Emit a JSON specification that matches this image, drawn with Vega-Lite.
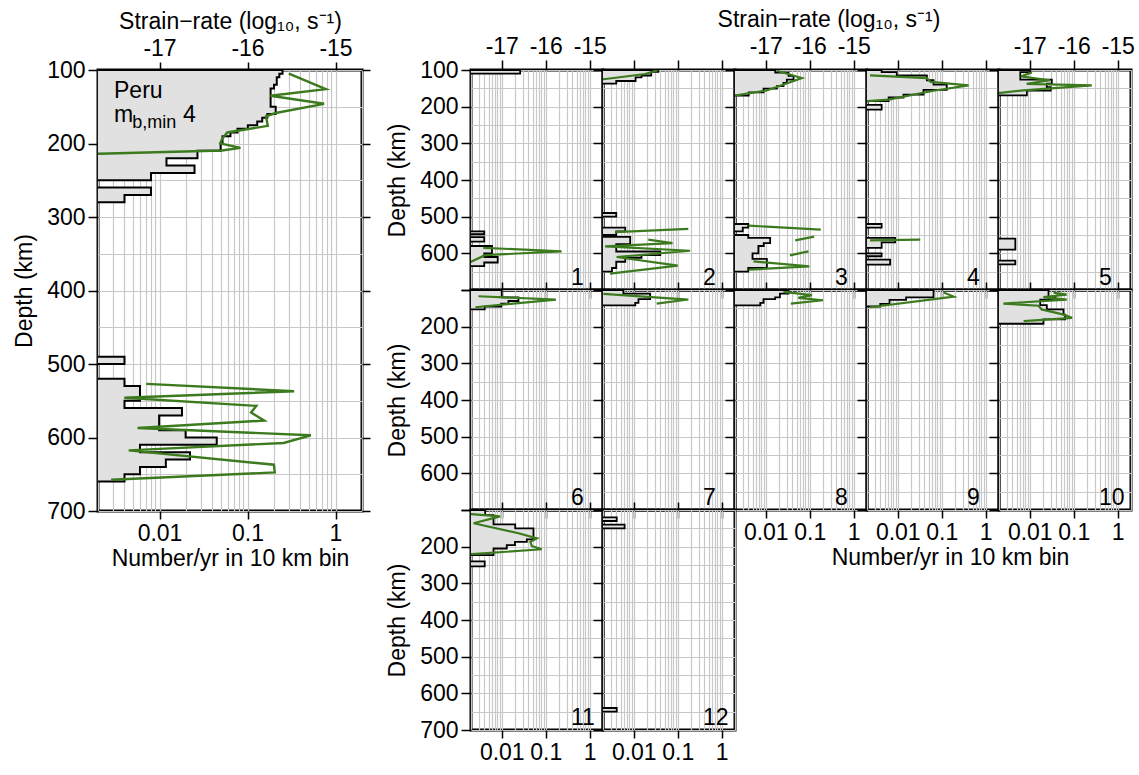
{
"$schema":"https://vega.github.io/schema/vega-lite/v6.json",
"padding":{"left":12,"top":6,"right":5,"bottom":5},
"background":"white",
"datasets":{
"hist":[
{"p":0,"d":100,"v":0.25},{"p":0,"d":105,"v":0.23},{"p":0,"d":110,"v":0.215},{"p":0,"d":120,"v":0.2},{"p":0,"d":125,"v":0.183},{"p":0,"d":150,"v":0.209},{"p":0,"d":160,"v":0.168},{"p":0,"d":165,"v":0.147},{"p":0,"d":170,"v":0.129},{"p":0,"d":175,"v":0.101},{"p":0,"d":180,"v":0.077},{"p":0,"d":185,"v":0.064},{"p":0,"d":190,"v":0.052},{"p":0,"d":200,"v":0.0495},{"p":0,"d":210,"v":0.027},{"p":0,"d":220,"v":0.012},{"p":0,"d":230,"v":0.025},{"p":0,"d":240,"v":0.008},{"p":0,"d":250,"v":0.0001},{"p":0,"d":260,"v":0.008},{"p":0,"d":270,"v":0.004},{"p":0,"d":280,"v":0.0001},{"p":0,"d":490,"v":0.004},{"p":0,"d":500,"v":0.0001},{"p":0,"d":520,"v":0.004},{"p":0,"d":530,"v":0.006},{"p":0,"d":550,"v":0.004},{"p":0,"d":560,"v":0.018},{"p":0,"d":570,"v":0.0099},{"p":0,"d":590,"v":0.0198},{"p":0,"d":600,"v":0.0447},{"p":0,"d":610,"v":0.006},{"p":0,"d":620,"v":0.0222},{"p":0,"d":630,"v":0.0118},{"p":0,"d":640,"v":0.006},{"p":0,"d":650,"v":0.004},{"p":0,"d":660,"v":0.0001},
{"p":1,"d":100,"v":0.0262},{"p":1,"d":110,"v":0.0001},{"p":1,"d":540,"v":0.004},{"p":1,"d":548,"v":0.0001},{"p":1,"d":556,"v":0.004},{"p":1,"d":568,"v":0.0001},{"p":1,"d":580,"v":0.006},{"p":1,"d":600,"v":0.004},{"p":1,"d":610,"v":0.0081},{"p":1,"d":625,"v":0.004},{"p":1,"d":635,"v":0.0001},
{"p":2,"d":100,"v":0.036},{"p":2,"d":105,"v":0.025},{"p":2,"d":115,"v":0.015},{"p":2,"d":120,"v":0.011},{"p":2,"d":130,"v":0.004},{"p":2,"d":137,"v":0.0001},{"p":2,"d":490,"v":0.004},{"p":2,"d":500,"v":0.0001},{"p":2,"d":530,"v":0.0064},{"p":2,"d":540,"v":0.004},{"p":2,"d":550,"v":0.0001},{"p":2,"d":555,"v":0.0083},{"p":2,"d":575,"v":0.004},{"p":2,"d":595,"v":0.04},{"p":2,"d":605,"v":0.015},{"p":2,"d":612,"v":0.0064},{"p":2,"d":623,"v":0.004},{"p":2,"d":640,"v":0.0032},{"p":2,"d":650,"v":0.0001},
{"p":3,"d":100,"v":0.0164},{"p":3,"d":107,"v":0.0329},{"p":3,"d":116,"v":0.0428},{"p":3,"d":126,"v":0.0301},{"p":3,"d":135,"v":0.0253},{"p":3,"d":144,"v":0.0179},{"p":3,"d":151,"v":0.0089},{"p":3,"d":161,"v":0.0041},{"p":3,"d":170,"v":0.0001},{"p":3,"d":520,"v":0.004},{"p":3,"d":530,"v":0.003},{"p":3,"d":540,"v":0.0001},{"p":3,"d":550,"v":0.004},{"p":3,"d":558,"v":0.0126},{"p":3,"d":572,"v":0.009},{"p":3,"d":580,"v":0.0068},{"p":3,"d":600,"v":0.005},{"p":3,"d":615,"v":0.0106},{"p":3,"d":640,"v":0.004},{"p":3,"d":650,"v":0.0001},
{"p":4,"d":100,"v":0.0043},{"p":4,"d":106,"v":0.0095},{"p":4,"d":115,"v":0.046},{"p":4,"d":128,"v":0.065},{"p":4,"d":140,"v":0.13},{"p":4,"d":154,"v":0.0385},{"p":4,"d":167,"v":0.0135},{"p":4,"d":175,"v":0.0062},{"p":4,"d":185,"v":0.0001},{"p":4,"d":195,"v":0.0043},{"p":4,"d":208,"v":0.0001},{"p":4,"d":520,"v":0.0043},{"p":4,"d":530,"v":0.0001},{"p":4,"d":558,"v":0.0087},{"p":4,"d":570,"v":0.0043},{"p":4,"d":585,"v":0.0001},{"p":4,"d":600,"v":0.0043},{"p":4,"d":608,"v":0.0001},{"p":4,"d":617,"v":0.0067},{"p":4,"d":631,"v":0.0001},
{"p":5,"d":100,"v":0.0102},{"p":5,"d":106,"v":0.0061},{"p":5,"d":126,"v":0.0317},{"p":5,"d":137,"v":0.0244},{"p":5,"d":147,"v":0.03},{"p":5,"d":156,"v":0.0086},{"p":5,"d":169,"v":0.0001},{"p":5,"d":560,"v":0.0047},{"p":5,"d":590,"v":0.0001},{"p":5,"d":620,"v":0.0047},{"p":5,"d":630,"v":0.0001},
{"p":6,"d":100,"v":0.01},{"p":6,"d":120,"v":0.024},{"p":6,"d":130,"v":0.0142},{"p":6,"d":137,"v":0.0097},{"p":6,"d":145,"v":0.0041},{"p":6,"d":153,"v":0.0001},
{"p":7,"d":100,"v":0.0058},{"p":7,"d":110,"v":0.0236},{"p":7,"d":125,"v":0.0128},{"p":7,"d":135,"v":0.0108},{"p":7,"d":142,"v":0.0001},
{"p":8,"d":100,"v":0.033},{"p":8,"d":110,"v":0.021},{"p":8,"d":120,"v":0.0164},{"p":8,"d":125,"v":0.0089},{"p":8,"d":135,"v":0.0075},{"p":8,"d":142,"v":0.0001},
{"p":9,"d":100,"v":0.065},{"p":9,"d":120,"v":0.0155},{"p":9,"d":127,"v":0.0065},{"p":9,"d":138,"v":0.004},{"p":9,"d":145,"v":0.0001},
{"p":10,"d":100,"v":0.0267},{"p":10,"d":120,"v":0.038},{"p":10,"d":126,"v":0.0173},{"p":10,"d":141,"v":0.0244},{"p":10,"d":153,"v":0.0585},{"p":10,"d":167,"v":0.0638},{"p":10,"d":180,"v":0.0205},{"p":10,"d":192,"v":0.0001},
{"p":11,"d":100,"v":0.0042},{"p":11,"d":114,"v":0.0065},{"p":11,"d":139,"v":0.0202},{"p":11,"d":150,"v":0.0526},{"p":11,"d":180,"v":0.0372},{"p":11,"d":187,"v":0.02},{"p":11,"d":196,"v":0.013},{"p":11,"d":205,"v":0.0065},{"p":11,"d":223,"v":0.0001},{"p":11,"d":240,"v":0.0041},{"p":11,"d":254,"v":0.0001},
{"p":12,"d":100,"v":0.0001},{"p":12,"d":120,"v":0.0041},{"p":12,"d":130,"v":0.0001},{"p":12,"d":140,"v":0.0062},{"p":12,"d":150,"v":0.0001},{"p":12,"d":640,"v":0.0041},{"p":12,"d":650,"v":0.0001}
],
"green":[
{"p":0,"g":0,"d":105,"s":-15.53},{"p":0,"g":0,"d":126,"s":-15.11},{"p":0,"g":0,"d":135,"s":-15.74},{"p":0,"g":0,"d":146,"s":-15.13},{"p":0,"g":0,"d":158.5,"s":-15.68},{"p":0,"g":0,"d":163,"s":-15.79},{"p":0,"g":0,"d":176,"s":-15.77},{"p":0,"g":0,"d":185,"s":-16.23},{"p":0,"g":0,"d":194,"s":-16.29},{"p":0,"g":0,"d":200,"s":-16.31},{"p":0,"g":0,"d":206,"s":-16.08},{"p":0,"g":0,"d":209.5,"s":-16.29},{"p":0,"g":0,"d":214,"s":-17.69},{"p":0,"g":0,"d":216.5,"s":-18.5},
{"p":0,"g":1,"d":527,"s":-17.15},{"p":0,"g":1,"d":537,"s":-15.47},{"p":0,"g":1,"d":546,"s":-17.4},{"p":0,"g":1,"d":557,"s":-15.9},{"p":0,"g":1,"d":566,"s":-15.96},{"p":0,"g":1,"d":577,"s":-15.81},{"p":0,"g":1,"d":587,"s":-17.25},{"p":0,"g":1,"d":597,"s":-15.28},{"p":0,"g":1,"d":607.5,"s":-15.59},{"p":0,"g":1,"d":617.5,"s":-17.35},{"p":0,"g":1,"d":637,"s":-15.7},{"p":0,"g":1,"d":647.5,"s":-15.69},{"p":0,"g":1,"d":657.5,"s":-17.55},
{"p":1,"g":0,"d":585,"s":-17.42},{"p":1,"g":0,"d":594.5,"s":-15.64},{"p":1,"g":0,"d":605,"s":-17.38},{"p":1,"g":0,"d":626,"s":-17.75},
{"p":2,"g":0,"d":100.5,"s":-16.45},{"p":2,"g":0,"d":111,"s":-16.74},{"p":2,"g":0,"d":124.5,"s":-17.64},{"p":2,"g":0,"d":128,"s":-18.2},
{"p":2,"g":1,"d":533.5,"s":-15.76},{"p":2,"g":1,"d":542,"s":-17.42},
{"p":2,"g":2,"d":562.5,"s":-16.67},{"p":2,"g":2,"d":572,"s":-16.12},{"p":2,"g":2,"d":581,"s":-17.65},{"p":2,"g":2,"d":593,"s":-15.72},{"p":2,"g":2,"d":610,"s":-17.39},{"p":2,"g":2,"d":633.5,"s":-16.0},{"p":2,"g":2,"d":655.5,"s":-17.54},
{"p":3,"g":0,"d":102,"s":-16.75},{"p":3,"g":0,"d":122,"s":-16.18},{"p":3,"g":0,"d":138,"s":-16.56},{"p":3,"g":0,"d":156,"s":-16.98},{"p":3,"g":0,"d":169,"s":-17.67},{"p":3,"g":0,"d":172,"s":-18.2},
{"p":3,"g":1,"d":524.5,"s":-17.39},{"p":3,"g":1,"d":535.5,"s":-15.75},
{"p":3,"g":2,"d":554.5,"s":-15.9},{"p":3,"g":2,"d":564.5,"s":-16.33},
{"p":3,"g":3,"d":594.5,"s":-16.03},{"p":3,"g":3,"d":605.5,"s":-16.45},
{"p":3,"g":4,"d":622,"s":-17.28},{"p":3,"g":4,"d":635.5,"s":-16.01},{"p":3,"g":4,"d":644.5,"s":-17.39},
{"p":4,"g":0,"d":114.5,"s":-17.63},{"p":4,"g":0,"d":122,"s":-16.34},{"p":4,"g":0,"d":132.5,"s":-16.25},{"p":4,"g":0,"d":142,"s":-15.39},{"p":4,"g":0,"d":156.5,"s":-16.19},{"p":4,"g":0,"d":181,"s":-17.21},{"p":4,"g":0,"d":185,"s":-17.68},{"p":4,"g":0,"d":187,"s":-18.2},
{"p":4,"g":1,"d":562.5,"s":-16.49},{"p":4,"g":1,"d":564.5,"s":-17.63},
{"p":5,"g":0,"d":106.5,"s":-16.95},{"p":5,"g":0,"d":117.5,"s":-17.2},{"p":5,"g":0,"d":128,"s":-16.54},{"p":5,"g":0,"d":138,"s":-17.07},{"p":5,"g":0,"d":142,"s":-15.59},{"p":5,"g":0,"d":155.5,"s":-17.14},{"p":5,"g":0,"d":162.5,"s":-17.67},{"p":5,"g":0,"d":165,"s":-18.2},
{"p":6,"g":0,"d":117,"s":-17.53},{"p":6,"g":0,"d":126,"s":-15.77},{"p":6,"g":0,"d":147,"s":-17.6},
{"p":7,"g":0,"d":110.5,"s":-17.69},{"p":7,"g":0,"d":126,"s":-15.76},{"p":7,"g":0,"d":137,"s":-16.48},
{"p":8,"g":0,"d":105,"s":-16.6},{"p":8,"g":0,"d":114,"s":-15.95},{"p":8,"g":0,"d":121.5,"s":-16.26},{"p":8,"g":0,"d":128,"s":-15.7},{"p":8,"g":0,"d":137,"s":-16.43},
{"p":9,"g":0,"d":107,"s":-15.96},{"p":9,"g":0,"d":118,"s":-15.73},{"p":9,"g":0,"d":147,"s":-17.63},
{"p":10,"g":0,"d":107,"s":-16.46},{"p":10,"g":0,"d":112.5,"s":-16.16},{"p":10,"g":0,"d":119.5,"s":-16.69},{"p":10,"g":0,"d":126,"s":-16.16},{"p":10,"g":0,"d":137,"s":-17.6},{"p":10,"g":0,"d":143,"s":-16.8},{"p":10,"g":0,"d":153,"s":-16.73},{"p":10,"g":0,"d":167,"s":-16.23},{"p":10,"g":0,"d":176,"s":-16.04},{"p":10,"g":0,"d":185,"s":-17.14},
{"p":11,"g":0,"d":111.5,"s":-17.7},{"p":11,"g":0,"d":117.5,"s":-17.04},{"p":11,"g":0,"d":136,"s":-17.64},{"p":11,"g":0,"d":163.5,"s":-16.62},{"p":11,"g":0,"d":177.5,"s":-16.2},{"p":11,"g":0,"d":187,"s":-16.35},{"p":11,"g":0,"d":198,"s":-16.32},{"p":11,"g":0,"d":207,"s":-16.09},{"p":11,"g":0,"d":220.5,"s":-17.68},{"p":11,"g":0,"d":223,"s":-18.2}
]
},
"spacing":12,
"hconcat":[
{"width":264,"height":441,
"layer":[
{"data":{"name":"hist"},"transform":[{"filter":"datum.p == 0"}],
"mark":{"type":"area","orient":"horizontal","interpolate":"step-before","fill":"#e1e1e1","stroke":"black","strokeWidth":2,"clip":true},
"encoding":{
"x":{"field":"v","type":"quantitative","scale":{"type":"log","domain":[0.002,2]},"axis":{"orient":"bottom","values":[0.002,0.003,0.004,0.005,0.006,0.007,0.008,0.009,0.01,0.02,0.03,0.04,0.05,0.06,0.07,0.08,0.09,0.1,0.2,0.3,0.4,0.5,0.6,0.7,0.8,0.9,1,2],"grid":true,"labelExpr":"datum.value == 0.01 ? '0.01' : datum.value == 0.1 ? '0.1' : datum.value == 1 ? '1' : ''","tickOpacity":{"condition":{"test":"datum.value == 0.01 || datum.value == 0.1 || datum.value == 1","value":1},"value":0},"tickSize":8,"labelPadding":3,"title":"Number/yr in 10 km bin","titlePadding":2}},
"x2":{"datum":0.0001},
"y":{"field":"d","type":"quantitative","scale":{"domain":[100,700],"reverse":true},"axis":{"values":[100,150,200,250,300,350,400,450,500,550,600,650,700],"grid":true,"labelExpr":"datum.value % 100 == 0 ? datum.label : ''","tickOpacity":{"condition":{"test":"datum.value % 100 == 0","value":1},"value":0},"tickSize":10,"labelPadding":3,"title":"Depth (km)","titlePadding":10}}}},
{"data":{"name":"green"},"transform":[{"filter":"datum.p == 0"}],
"mark":{"type":"line","color":"#3c7a1e","strokeWidth":2.4,"clip":true},
"encoding":{
"x":{"field":"s","type":"quantitative","scale":{"domain":[-17.699,-14.699]},"axis":{"orient":"top","values":[-17,-16,-15],"grid":false,"labelExpr":"'' + datum.value","tickSize":8,"labelPadding":2,"title":"Strain−rate (log₁₀, s⁻¹)","titlePadding":4}},
"y":{"field":"d","type":"quantitative","axis":{"orient":"right","values":[100,200,300,400,500,600,700],"grid":false,"labels":false,"tickSize":8,"title":null}},
"detail":{"field":"g"},"order":{"field":"d"}}},
{"data":{"values":[{"t":"Peru"}]},"mark":{"type":"text","align":"left","baseline":"alphabetic","fontSize":23,"font":"Liberation Sans"},
"encoding":{"text":{"field":"t"},"x":{"datum":0.00304,"scale":{"type":"log","domain":[0.002,2]},"axis":null},"y":{"datum":137.7,"axis":null}}},
{"data":{"values":[{"t":"m"}]},"mark":{"type":"text","align":"left","baseline":"alphabetic","fontSize":23,"font":"Liberation Sans"},
"encoding":{"text":{"field":"t"},"x":{"datum":0.00304,"scale":{"type":"log","domain":[0.002,2]},"axis":null},"y":{"datum":170.3,"axis":null}}},
{"data":{"values":[{"t":"b,min"}]},"mark":{"type":"text","align":"left","baseline":"alphabetic","fontSize":18,"font":"Liberation Sans"},
"encoding":{"text":{"field":"t"},"x":{"datum":0.0049,"scale":{"type":"log","domain":[0.002,2]},"axis":null},"y":{"datum":178.5,"axis":null}}},
{"data":{"values":[{"t":"4"}]},"mark":{"type":"text","align":"left","baseline":"alphabetic","fontSize":23,"font":"Liberation Sans"},
"encoding":{"text":{"field":"t"},"x":{"datum":0.0185,"scale":{"type":"log","domain":[0.002,2]},"axis":null},"y":{"datum":170.3,"axis":null}}}
],
"resolve":{"scale":{"x":"independent"},"axis":{"y":"independent"}}
},
{"columns":5,"spacing":0,"bounds":"flush",
"concat":[
{"width":132,"height":220,"layer":[
{"data":{"name":"hist"},"transform":[{"filter":"datum.p == 1"}],"mark":{"type":"area","orient":"horizontal","interpolate":"step-before","fill":"#e1e1e1","stroke":"black","strokeWidth":1.8,"clip":true},
"encoding":{"x":{"field":"v","type":"quantitative","scale":{"type":"log","domain":[0.002,2]},"axis":{"orient":"bottom","values":[0.002,0.003,0.004,0.005,0.006,0.007,0.008,0.009,0.01,0.02,0.03,0.04,0.05,0.06,0.07,0.08,0.09,0.1,0.2,0.3,0.4,0.5,0.6,0.7,0.8,0.9,1,2],"grid":true,"labels":false,"tickOpacity":{"condition":{"test":"datum.value == 0.01 || datum.value == 0.1 || datum.value == 1","value":1},"value":0},"tickSize":8,"title":null}},"x2":{"datum":0.0001},
"y":{"field":"d","type":"quantitative","scale":{"domain":[100,700],"reverse":true},"axis":{"values":[100,150,200,250,300,350,400,450,500,550,600,650,700],"grid":true,"labelExpr":"datum.value % 100 == 0 && datum.value <= 600 ? datum.label : ''","tickOpacity":{"condition":{"test":"datum.value % 100 == 0","value":1},"value":0},"tickSize":10,"labelPadding":3,"title":"Depth (km)","titlePadding":10}}}},
{"data":{"name":"green"},"transform":[{"filter":"datum.p == 1"}],"mark":{"type":"line","color":"#3c7a1e","strokeWidth":2.2,"clip":true},
"encoding":{"x":{"field":"s","type":"quantitative","scale":{"domain":[-17.699,-14.699]},"axis":{"orient":"top","values":[-17,-16,-15],"grid":false,"labelExpr":"'' + datum.value","tickSize":10,"labelPadding":2,"title":null}},"y":{"field":"d","type":"quantitative","axis":null},"detail":{"field":"g"},"order":{"field":"d"}}},
{"data":{"values":[{"t":"1"}]},"mark":{"type":"text","align":"left","baseline":"alphabetic","fontSize":23,"font":"Liberation Sans"},"encoding":{"text":{"field":"t"},"x":{"datum":0.375,"scale":{"type":"log","domain":[0.002,2]},"axis":null},"y":{"datum":686,"axis":null}}}
],"resolve":{"scale":{"x":"independent"},"axis":{"y":"independent"}}},
{"width":132,"height":220,"layer":[
{"data":{"name":"hist"},"transform":[{"filter":"datum.p == 2"}],"mark":{"type":"area","orient":"horizontal","interpolate":"step-before","fill":"#e1e1e1","stroke":"black","strokeWidth":1.8,"clip":true},
"encoding":{"x":{"field":"v","type":"quantitative","scale":{"type":"log","domain":[0.002,2]},"axis":{"orient":"bottom","values":[0.002,0.003,0.004,0.005,0.006,0.007,0.008,0.009,0.01,0.02,0.03,0.04,0.05,0.06,0.07,0.08,0.09,0.1,0.2,0.3,0.4,0.5,0.6,0.7,0.8,0.9,1,2],"grid":true,"labels":false,"tickOpacity":{"condition":{"test":"datum.value == 0.01 || datum.value == 0.1 || datum.value == 1","value":1},"value":0},"tickSize":8,"title":null}},"x2":{"datum":0.0001},
"y":{"field":"d","type":"quantitative","scale":{"domain":[100,700],"reverse":true},"axis":{"values":[100,150,200,250,300,350,400,450,500,550,600,650,700],"grid":true,"labels":false,"tickOpacity":{"condition":{"test":"datum.value % 100 == 0","value":1},"value":0},"tickSize":10,"title":null}}}},
{"data":{"name":"green"},"transform":[{"filter":"datum.p == 2"}],"mark":{"type":"line","color":"#3c7a1e","strokeWidth":2.2,"clip":true},
"encoding":{"x":{"field":"s","type":"quantitative","scale":{"domain":[-17.699,-14.699]},"axis":{"orient":"top","values":[-17,-16,-15],"grid":false,"labels":false,"tickSize":10,"title":null}},"y":{"field":"d","type":"quantitative","axis":null},"detail":{"field":"g"},"order":{"field":"d"}}},
{"data":{"values":[{"t":"2"}]},"mark":{"type":"text","align":"left","baseline":"alphabetic","fontSize":23,"font":"Liberation Sans"},"encoding":{"text":{"field":"t"},"x":{"datum":0.375,"scale":{"type":"log","domain":[0.002,2]},"axis":null},"y":{"datum":686,"axis":null}}}
],"resolve":{"scale":{"x":"independent"},"axis":{"y":"independent"}}},
{"width":132,"height":220,"layer":[
{"data":{"name":"hist"},"transform":[{"filter":"datum.p == 3"}],"mark":{"type":"area","orient":"horizontal","interpolate":"step-before","fill":"#e1e1e1","stroke":"black","strokeWidth":1.8,"clip":true},
"encoding":{"x":{"field":"v","type":"quantitative","scale":{"type":"log","domain":[0.002,2]},"axis":{"orient":"bottom","values":[0.002,0.003,0.004,0.005,0.006,0.007,0.008,0.009,0.01,0.02,0.03,0.04,0.05,0.06,0.07,0.08,0.09,0.1,0.2,0.3,0.4,0.5,0.6,0.7,0.8,0.9,1,2],"grid":true,"labels":false,"tickOpacity":{"condition":{"test":"datum.value == 0.01 || datum.value == 0.1 || datum.value == 1","value":1},"value":0},"tickSize":8,"title":null}},"x2":{"datum":0.0001},
"y":{"field":"d","type":"quantitative","scale":{"domain":[100,700],"reverse":true},"axis":{"values":[100,150,200,250,300,350,400,450,500,550,600,650,700],"grid":true,"labels":false,"tickOpacity":{"condition":{"test":"datum.value % 100 == 0","value":1},"value":0},"tickSize":10,"title":null}}}},
{"data":{"name":"green"},"transform":[{"filter":"datum.p == 3"}],"mark":{"type":"line","color":"#3c7a1e","strokeWidth":2.2,"clip":true},
"encoding":{"x":{"field":"s","type":"quantitative","scale":{"domain":[-17.699,-14.699]},"axis":{"orient":"top","values":[-17,-16,-15],"grid":false,"labelExpr":"'' + datum.value","tickSize":10,"labelPadding":2,"title":"Strain−rate (log₁₀, s⁻¹)","titleX":93.5,"titlePadding":4}},"y":{"field":"d","type":"quantitative","axis":null},"detail":{"field":"g"},"order":{"field":"d"}}},
{"data":{"values":[{"t":"3"}]},"mark":{"type":"text","align":"left","baseline":"alphabetic","fontSize":23,"font":"Liberation Sans"},"encoding":{"text":{"field":"t"},"x":{"datum":0.375,"scale":{"type":"log","domain":[0.002,2]},"axis":null},"y":{"datum":686,"axis":null}}}
],"resolve":{"scale":{"x":"independent"},"axis":{"y":"independent"}}},
{"width":132,"height":220,"layer":[
{"data":{"name":"hist"},"transform":[{"filter":"datum.p == 4"}],"mark":{"type":"area","orient":"horizontal","interpolate":"step-before","fill":"#e1e1e1","stroke":"black","strokeWidth":1.8,"clip":true},
"encoding":{"x":{"field":"v","type":"quantitative","scale":{"type":"log","domain":[0.002,2]},"axis":{"orient":"bottom","values":[0.002,0.003,0.004,0.005,0.006,0.007,0.008,0.009,0.01,0.02,0.03,0.04,0.05,0.06,0.07,0.08,0.09,0.1,0.2,0.3,0.4,0.5,0.6,0.7,0.8,0.9,1,2],"grid":true,"labels":false,"tickOpacity":{"condition":{"test":"datum.value == 0.01 || datum.value == 0.1 || datum.value == 1","value":1},"value":0},"tickSize":8,"title":null}},"x2":{"datum":0.0001},
"y":{"field":"d","type":"quantitative","scale":{"domain":[100,700],"reverse":true},"axis":{"values":[100,150,200,250,300,350,400,450,500,550,600,650,700],"grid":true,"labels":false,"tickOpacity":{"condition":{"test":"datum.value % 100 == 0","value":1},"value":0},"tickSize":10,"title":null}}}},
{"data":{"name":"green"},"transform":[{"filter":"datum.p == 4"}],"mark":{"type":"line","color":"#3c7a1e","strokeWidth":2.2,"clip":true},
"encoding":{"x":{"field":"s","type":"quantitative","scale":{"domain":[-17.699,-14.699]},"axis":{"orient":"top","values":[-17,-16,-15],"grid":false,"labels":false,"tickSize":10,"title":null}},"y":{"field":"d","type":"quantitative","axis":null},"detail":{"field":"g"},"order":{"field":"d"}}},
{"data":{"values":[{"t":"4"}]},"mark":{"type":"text","align":"left","baseline":"alphabetic","fontSize":23,"font":"Liberation Sans"},"encoding":{"text":{"field":"t"},"x":{"datum":0.375,"scale":{"type":"log","domain":[0.002,2]},"axis":null},"y":{"datum":686,"axis":null}}}
],"resolve":{"scale":{"x":"independent"},"axis":{"y":"independent"}}},
{"width":132,"height":220,"layer":[
{"data":{"name":"hist"},"transform":[{"filter":"datum.p == 5"}],"mark":{"type":"area","orient":"horizontal","interpolate":"step-before","fill":"#e1e1e1","stroke":"black","strokeWidth":1.8,"clip":true},
"encoding":{"x":{"field":"v","type":"quantitative","scale":{"type":"log","domain":[0.002,2]},"axis":{"orient":"bottom","values":[0.002,0.003,0.004,0.005,0.006,0.007,0.008,0.009,0.01,0.02,0.03,0.04,0.05,0.06,0.07,0.08,0.09,0.1,0.2,0.3,0.4,0.5,0.6,0.7,0.8,0.9,1,2],"grid":true,"labels":false,"tickOpacity":{"condition":{"test":"datum.value == 0.01 || datum.value == 0.1 || datum.value == 1","value":1},"value":0},"tickSize":8,"title":null}},"x2":{"datum":0.0001},
"y":{"field":"d","type":"quantitative","scale":{"domain":[100,700],"reverse":true},"axis":{"values":[100,150,200,250,300,350,400,450,500,550,600,650,700],"grid":true,"labels":false,"tickOpacity":{"condition":{"test":"datum.value % 100 == 0","value":1},"value":0},"tickSize":10,"title":null}}}},
{"data":{"name":"green"},"transform":[{"filter":"datum.p == 5"}],"mark":{"type":"line","color":"#3c7a1e","strokeWidth":2.2,"clip":true},
"encoding":{"x":{"field":"s","type":"quantitative","scale":{"domain":[-17.699,-14.699]},"axis":{"orient":"top","values":[-17,-16,-15],"grid":false,"labelExpr":"'' + datum.value","tickSize":10,"labelPadding":2,"title":null}},"y":{"field":"d","type":"quantitative","axis":null},"detail":{"field":"g"},"order":{"field":"d"}}},
{"data":{"values":[{"t":"5"}]},"mark":{"type":"text","align":"left","baseline":"alphabetic","fontSize":23,"font":"Liberation Sans"},"encoding":{"text":{"field":"t"},"x":{"datum":0.375,"scale":{"type":"log","domain":[0.002,2]},"axis":null},"y":{"datum":686,"axis":null}}}
],"resolve":{"scale":{"x":"independent"},"axis":{"y":"independent"}}},
{"width":132,"height":220,"layer":[
{"data":{"name":"hist"},"transform":[{"filter":"datum.p == 6"}],"mark":{"type":"area","orient":"horizontal","interpolate":"step-before","fill":"#e1e1e1","stroke":"black","strokeWidth":1.8,"clip":true},
"encoding":{"x":{"field":"v","type":"quantitative","scale":{"type":"log","domain":[0.002,2]},"axis":{"orient":"bottom","values":[0.002,0.003,0.004,0.005,0.006,0.007,0.008,0.009,0.01,0.02,0.03,0.04,0.05,0.06,0.07,0.08,0.09,0.1,0.2,0.3,0.4,0.5,0.6,0.7,0.8,0.9,1,2],"grid":true,"labels":false,"tickOpacity":{"condition":{"test":"datum.value == 0.01 || datum.value == 0.1 || datum.value == 1","value":1},"value":0},"tickSize":8,"title":null}},"x2":{"datum":0.0001},
"y":{"field":"d","type":"quantitative","scale":{"domain":[100,700],"reverse":true},"axis":{"values":[100,150,200,250,300,350,400,450,500,550,600,650,700],"grid":true,"labelExpr":"datum.value % 100 == 0 && datum.value >= 200 && datum.value <= 600 ? datum.label : ''","tickOpacity":{"condition":{"test":"datum.value % 100 == 0","value":1},"value":0},"tickSize":10,"labelPadding":3,"title":"Depth (km)","titlePadding":10}}}},
{"data":{"name":"green"},"transform":[{"filter":"datum.p == 6"}],"mark":{"type":"line","color":"#3c7a1e","strokeWidth":2.2,"clip":true},
"encoding":{"x":{"field":"s","type":"quantitative","scale":{"domain":[-17.699,-14.699]},"axis":{"orient":"top","values":[-17,-16,-15],"grid":false,"labels":false,"tickSize":8,"title":null}},"y":{"field":"d","type":"quantitative","axis":null},"detail":{"field":"g"},"order":{"field":"d"}}},
{"data":{"values":[{"t":"6"}]},"mark":{"type":"text","align":"left","baseline":"alphabetic","fontSize":23,"font":"Liberation Sans"},"encoding":{"text":{"field":"t"},"x":{"datum":0.375,"scale":{"type":"log","domain":[0.002,2]},"axis":null},"y":{"datum":686,"axis":null}}}
],"resolve":{"scale":{"x":"independent"},"axis":{"y":"independent"}}},
{"width":132,"height":220,"layer":[
{"data":{"name":"hist"},"transform":[{"filter":"datum.p == 7"}],"mark":{"type":"area","orient":"horizontal","interpolate":"step-before","fill":"#e1e1e1","stroke":"black","strokeWidth":1.8,"clip":true},
"encoding":{"x":{"field":"v","type":"quantitative","scale":{"type":"log","domain":[0.002,2]},"axis":{"orient":"bottom","values":[0.002,0.003,0.004,0.005,0.006,0.007,0.008,0.009,0.01,0.02,0.03,0.04,0.05,0.06,0.07,0.08,0.09,0.1,0.2,0.3,0.4,0.5,0.6,0.7,0.8,0.9,1,2],"grid":true,"labels":false,"tickOpacity":{"condition":{"test":"datum.value == 0.01 || datum.value == 0.1 || datum.value == 1","value":1},"value":0},"tickSize":8,"title":null}},"x2":{"datum":0.0001},
"y":{"field":"d","type":"quantitative","scale":{"domain":[100,700],"reverse":true},"axis":{"values":[100,150,200,250,300,350,400,450,500,550,600,650,700],"grid":true,"labels":false,"tickOpacity":{"condition":{"test":"datum.value % 100 == 0","value":1},"value":0},"tickSize":10,"title":null}}}},
{"data":{"name":"green"},"transform":[{"filter":"datum.p == 7"}],"mark":{"type":"line","color":"#3c7a1e","strokeWidth":2.2,"clip":true},
"encoding":{"x":{"field":"s","type":"quantitative","scale":{"domain":[-17.699,-14.699]},"axis":{"orient":"top","values":[-17,-16,-15],"grid":false,"labels":false,"tickSize":8,"title":null}},"y":{"field":"d","type":"quantitative","axis":null},"detail":{"field":"g"},"order":{"field":"d"}}},
{"data":{"values":[{"t":"7"}]},"mark":{"type":"text","align":"left","baseline":"alphabetic","fontSize":23,"font":"Liberation Sans"},"encoding":{"text":{"field":"t"},"x":{"datum":0.375,"scale":{"type":"log","domain":[0.002,2]},"axis":null},"y":{"datum":686,"axis":null}}}
],"resolve":{"scale":{"x":"independent"},"axis":{"y":"independent"}}},
{"width":132,"height":220,"layer":[
{"data":{"name":"hist"},"transform":[{"filter":"datum.p == 8"}],"mark":{"type":"area","orient":"horizontal","interpolate":"step-before","fill":"#e1e1e1","stroke":"black","strokeWidth":1.8,"clip":true},
"encoding":{"x":{"field":"v","type":"quantitative","scale":{"type":"log","domain":[0.002,2]},"axis":{"orient":"bottom","values":[0.002,0.003,0.004,0.005,0.006,0.007,0.008,0.009,0.01,0.02,0.03,0.04,0.05,0.06,0.07,0.08,0.09,0.1,0.2,0.3,0.4,0.5,0.6,0.7,0.8,0.9,1,2],"grid":true,"labelExpr":"datum.value == 0.01 ? '0.01' : datum.value == 0.1 ? '0.1' : datum.value == 1 ? '1' : ''","tickOpacity":{"condition":{"test":"datum.value == 0.01 || datum.value == 0.1 || datum.value == 1","value":1},"value":0},"tickSize":8,"labelPadding":3,"title":null}},"x2":{"datum":0.0001},
"y":{"field":"d","type":"quantitative","scale":{"domain":[100,700],"reverse":true},"axis":{"values":[100,150,200,250,300,350,400,450,500,550,600,650,700],"grid":true,"labels":false,"tickOpacity":{"condition":{"test":"datum.value % 100 == 0","value":1},"value":0},"tickSize":10,"title":null}}}},
{"data":{"name":"green"},"transform":[{"filter":"datum.p == 8"}],"mark":{"type":"line","color":"#3c7a1e","strokeWidth":2.2,"clip":true},
"encoding":{"x":{"field":"s","type":"quantitative","scale":{"domain":[-17.699,-14.699]},"axis":{"orient":"top","values":[-17,-16,-15],"grid":false,"labels":false,"tickSize":8,"title":null}},"y":{"field":"d","type":"quantitative","axis":null},"detail":{"field":"g"},"order":{"field":"d"}}},
{"data":{"values":[{"t":"8"}]},"mark":{"type":"text","align":"left","baseline":"alphabetic","fontSize":23,"font":"Liberation Sans"},"encoding":{"text":{"field":"t"},"x":{"datum":0.375,"scale":{"type":"log","domain":[0.002,2]},"axis":null},"y":{"datum":686,"axis":null}}}
],"resolve":{"scale":{"x":"independent"},"axis":{"y":"independent"}}},
{"width":132,"height":220,"layer":[
{"data":{"name":"hist"},"transform":[{"filter":"datum.p == 9"}],"mark":{"type":"area","orient":"horizontal","interpolate":"step-before","fill":"#e1e1e1","stroke":"black","strokeWidth":1.8,"clip":true},
"encoding":{"x":{"field":"v","type":"quantitative","scale":{"type":"log","domain":[0.002,2]},"axis":{"orient":"bottom","values":[0.002,0.003,0.004,0.005,0.006,0.007,0.008,0.009,0.01,0.02,0.03,0.04,0.05,0.06,0.07,0.08,0.09,0.1,0.2,0.3,0.4,0.5,0.6,0.7,0.8,0.9,1,2],"grid":true,"labelExpr":"datum.value == 0.01 ? '0.01' : datum.value == 0.1 ? '0.1' : datum.value == 1 ? '1' : ''","tickOpacity":{"condition":{"test":"datum.value == 0.01 || datum.value == 0.1 || datum.value == 1","value":1},"value":0},"tickSize":8,"labelPadding":3,"title":"Number/yr in 10 km bin","titleX":83,"titlePadding":2}},"x2":{"datum":0.0001},
"y":{"field":"d","type":"quantitative","scale":{"domain":[100,700],"reverse":true},"axis":{"values":[100,150,200,250,300,350,400,450,500,550,600,650,700],"grid":true,"labels":false,"tickOpacity":{"condition":{"test":"datum.value % 100 == 0","value":1},"value":0},"tickSize":10,"title":null}}}},
{"data":{"name":"green"},"transform":[{"filter":"datum.p == 9"}],"mark":{"type":"line","color":"#3c7a1e","strokeWidth":2.2,"clip":true},
"encoding":{"x":{"field":"s","type":"quantitative","scale":{"domain":[-17.699,-14.699]},"axis":{"orient":"top","values":[-17,-16,-15],"grid":false,"labels":false,"tickSize":8,"title":null}},"y":{"field":"d","type":"quantitative","axis":null},"detail":{"field":"g"},"order":{"field":"d"}}},
{"data":{"values":[{"t":"9"}]},"mark":{"type":"text","align":"left","baseline":"alphabetic","fontSize":23,"font":"Liberation Sans"},"encoding":{"text":{"field":"t"},"x":{"datum":0.375,"scale":{"type":"log","domain":[0.002,2]},"axis":null},"y":{"datum":686,"axis":null}}}
],"resolve":{"scale":{"x":"independent"},"axis":{"y":"independent"}}},
{"width":132,"height":220,"layer":[
{"data":{"name":"hist"},"transform":[{"filter":"datum.p == 10"}],"mark":{"type":"area","orient":"horizontal","interpolate":"step-before","fill":"#e1e1e1","stroke":"black","strokeWidth":1.8,"clip":true},
"encoding":{"x":{"field":"v","type":"quantitative","scale":{"type":"log","domain":[0.002,2]},"axis":{"orient":"bottom","values":[0.002,0.003,0.004,0.005,0.006,0.007,0.008,0.009,0.01,0.02,0.03,0.04,0.05,0.06,0.07,0.08,0.09,0.1,0.2,0.3,0.4,0.5,0.6,0.7,0.8,0.9,1,2],"grid":true,"labelExpr":"datum.value == 0.01 ? '0.01' : datum.value == 0.1 ? '0.1' : datum.value == 1 ? '1' : ''","tickOpacity":{"condition":{"test":"datum.value == 0.01 || datum.value == 0.1 || datum.value == 1","value":1},"value":0},"tickSize":8,"labelPadding":3,"title":null}},"x2":{"datum":0.0001},
"y":{"field":"d","type":"quantitative","scale":{"domain":[100,700],"reverse":true},"axis":{"values":[100,150,200,250,300,350,400,450,500,550,600,650,700],"grid":true,"labels":false,"tickOpacity":{"condition":{"test":"datum.value % 100 == 0","value":1},"value":0},"tickSize":10,"title":null}}}},
{"data":{"name":"green"},"transform":[{"filter":"datum.p == 10"}],"mark":{"type":"line","color":"#3c7a1e","strokeWidth":2.2,"clip":true},
"encoding":{"x":{"field":"s","type":"quantitative","scale":{"domain":[-17.699,-14.699]},"axis":{"orient":"top","values":[-17,-16,-15],"grid":false,"labels":false,"tickSize":8,"title":null}},"y":{"field":"d","type":"quantitative","axis":null},"detail":{"field":"g"},"order":{"field":"d"}}},
{"data":{"values":[{"t":"10"}]},"mark":{"type":"text","align":"left","baseline":"alphabetic","fontSize":23,"font":"Liberation Sans"},"encoding":{"text":{"field":"t"},"x":{"datum":0.375,"scale":{"type":"log","domain":[0.002,2]},"axis":null},"y":{"datum":686,"axis":null}}}
],"resolve":{"scale":{"x":"independent"},"axis":{"y":"independent"}}},
{"width":132,"height":220,"layer":[
{"data":{"name":"hist"},"transform":[{"filter":"datum.p == 11"}],"mark":{"type":"area","orient":"horizontal","interpolate":"step-before","fill":"#e1e1e1","stroke":"black","strokeWidth":1.8,"clip":true},
"encoding":{"x":{"field":"v","type":"quantitative","scale":{"type":"log","domain":[0.002,2]},"axis":{"orient":"bottom","values":[0.002,0.003,0.004,0.005,0.006,0.007,0.008,0.009,0.01,0.02,0.03,0.04,0.05,0.06,0.07,0.08,0.09,0.1,0.2,0.3,0.4,0.5,0.6,0.7,0.8,0.9,1,2],"grid":true,"labelExpr":"datum.value == 0.01 ? '0.01' : datum.value == 0.1 ? '0.1' : datum.value == 1 ? '1' : ''","tickOpacity":{"condition":{"test":"datum.value == 0.01 || datum.value == 0.1 || datum.value == 1","value":1},"value":0},"tickSize":8,"labelPadding":3,"title":null}},"x2":{"datum":0.0001},
"y":{"field":"d","type":"quantitative","scale":{"domain":[100,700],"reverse":true},"axis":{"values":[100,150,200,250,300,350,400,450,500,550,600,650,700],"grid":true,"labelExpr":"datum.value % 100 == 0 && datum.value >= 200 ? datum.label : ''","tickOpacity":{"condition":{"test":"datum.value % 100 == 0","value":1},"value":0},"tickSize":10,"labelPadding":3,"title":"Depth (km)","titlePadding":10}}}},
{"data":{"name":"green"},"transform":[{"filter":"datum.p == 11"}],"mark":{"type":"line","color":"#3c7a1e","strokeWidth":2.2,"clip":true},
"encoding":{"x":{"field":"s","type":"quantitative","scale":{"domain":[-17.699,-14.699]},"axis":{"orient":"top","values":[-17,-16,-15],"grid":false,"labels":false,"tickSize":8,"title":null}},"y":{"field":"d","type":"quantitative","axis":null},"detail":{"field":"g"},"order":{"field":"d"}}},
{"data":{"values":[{"t":"11"}]},"mark":{"type":"text","align":"left","baseline":"alphabetic","fontSize":23,"font":"Liberation Sans"},"encoding":{"text":{"field":"t"},"x":{"datum":0.375,"scale":{"type":"log","domain":[0.002,2]},"axis":null},"y":{"datum":686,"axis":null}}}
],"resolve":{"scale":{"x":"independent"},"axis":{"y":"independent"}}},
{"width":132,"height":220,"layer":[
{"data":{"name":"hist"},"transform":[{"filter":"datum.p == 12"}],"mark":{"type":"area","orient":"horizontal","interpolate":"step-before","fill":"#e1e1e1","stroke":"black","strokeWidth":1.8,"clip":true},
"encoding":{"x":{"field":"v","type":"quantitative","scale":{"type":"log","domain":[0.002,2]},"axis":{"orient":"bottom","values":[0.002,0.003,0.004,0.005,0.006,0.007,0.008,0.009,0.01,0.02,0.03,0.04,0.05,0.06,0.07,0.08,0.09,0.1,0.2,0.3,0.4,0.5,0.6,0.7,0.8,0.9,1,2],"grid":true,"labelExpr":"datum.value == 0.01 ? '0.01' : datum.value == 0.1 ? '0.1' : datum.value == 1 ? '1' : ''","tickOpacity":{"condition":{"test":"datum.value == 0.01 || datum.value == 0.1 || datum.value == 1","value":1},"value":0},"tickSize":8,"labelPadding":3,"title":null}},"x2":{"datum":0.0001},
"y":{"field":"d","type":"quantitative","scale":{"domain":[100,700],"reverse":true},"axis":{"values":[100,150,200,250,300,350,400,450,500,550,600,650,700],"grid":true,"labels":false,"tickOpacity":{"condition":{"test":"datum.value % 100 == 0","value":1},"value":0},"tickSize":10,"title":null}}}},
{"data":{"name":"green"},"transform":[{"filter":"datum.p == 12"}],"mark":{"type":"line","color":"#3c7a1e","strokeWidth":2.2,"clip":true},
"encoding":{"x":{"field":"s","type":"quantitative","scale":{"domain":[-17.699,-14.699]},"axis":{"orient":"top","values":[-17,-16,-15],"grid":false,"labels":false,"tickSize":8,"title":null}},"y":{"field":"d","type":"quantitative","axis":null},"detail":{"field":"g"},"order":{"field":"d"}}},
{"data":{"values":[{"t":"12"}]},"mark":{"type":"text","align":"left","baseline":"alphabetic","fontSize":23,"font":"Liberation Sans"},"encoding":{"text":{"field":"t"},"x":{"datum":0.375,"scale":{"type":"log","domain":[0.002,2]},"axis":null},"y":{"datum":686,"axis":null}}}
],"resolve":{"scale":{"x":"independent"},"axis":{"y":"independent"}}}
]}
],
"config":{
"font":"Liberation Sans",
"view":{"stroke":"black","strokeWidth":3},
"axis":{"labelFont":"Liberation Sans","titleFont":"Liberation Sans","labelFontSize":23,"titleFontSize":23,"titleFontWeight":"normal","labelColor":"black","titleColor":"black","tickColor":"black","tickWidth":1.5,"domain":false,"gridColor":"#c8c8c8","gridWidth":1.2,"labelFlush":false,"labelOverlap":false,"labelBound":false}
}
}
